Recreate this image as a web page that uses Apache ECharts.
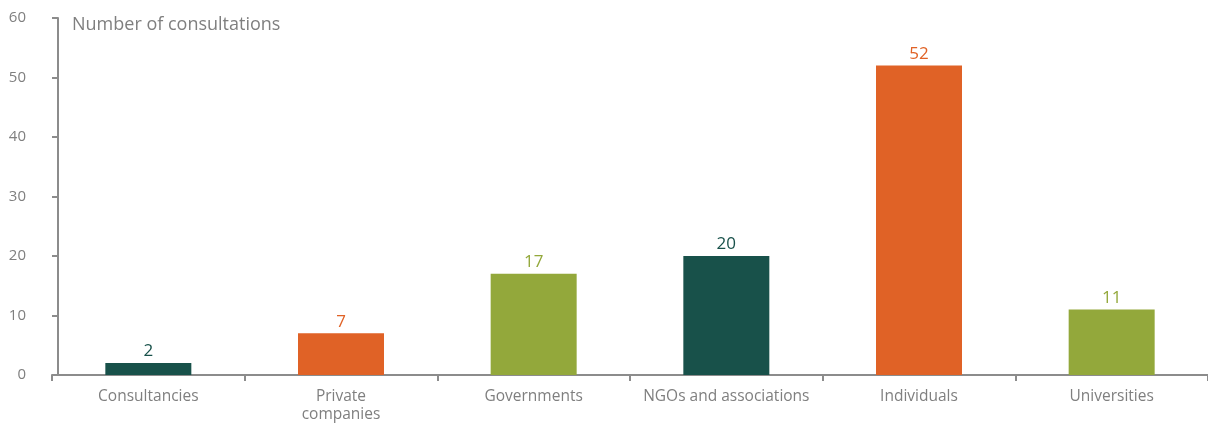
<!DOCTYPE html>
<html>
<head>
<meta charset="utf-8">
<style>
  html, body { margin: 0; padding: 0; background: #fff; }
  #main { width: 1208px; height: 427px; }
</style>
<script src="https://cdn.jsdelivr.net/npm/echarts@6/dist/echarts.min.js"></script>
</head>
<body>
<div id="main"></div>
<script>
const categories = ["Consultancies", "Private\ncompanies", "Governments", "NGOs and associations", "Individuals", "Universities"];
const consultations = [2, 7, 17, 20, 52, 11];
const barColors = ["#18514a", "#e06226", "#93a83b", "#18514a", "#e06226", "#93a83b"];
const yTicks = { min: 0, max: 60, interval: 10 };

const axisGrey = "#8c8c8c";
const textGrey = "#7f7f7f";
const font = "Open Sans";

const myChart = echarts.init(document.getElementById("main"));
myChart.setOption({
  animation: false,
  textStyle: { fontFamily: font },
  title: {
    text: "Number of consultations",
    left: 67,
    top: 11,
    textStyle: { color: textGrey, fontSize: 18, fontWeight: "normal", fontFamily: font }
  },
  grid: { left: 52, right: 0, top: 18, bottom: 52, containLabel: false },
  xAxis: {
    type: "category",
    data: categories,
    axisLine: { show: true, lineStyle: { color: axisGrey, width: 2 } },
    axisTick: { show: true, length: 6, lineStyle: { color: axisGrey, width: 2 } },
    axisLabel: { color: textGrey, fontSize: 15.5, margin: 13, lineHeight: 18, interval: 0 }
  },
  yAxis: {
    type: "value",
    min: yTicks.min,
    max: yTicks.max,
    interval: yTicks.interval,
    offset: -6,
    axisLine: { show: true, lineStyle: { color: axisGrey, width: 2 } },
    axisTick: { show: true, length: 6, lineStyle: { color: axisGrey, width: 2 } },
    axisLabel: { color: textGrey, fontSize: 15, margin: 32 },
    splitLine: { show: false }
  },
  series: [
    {
      type: "bar",
      barWidth: 86,
      data: consultations.map((v, i) => ({
        value: v,
        itemStyle: { color: barColors[i] },
        label: { color: barColors[i] }
      })),
      label: {
        show: true,
        position: "top",
        distance: 3,
        fontSize: 17,
        fontFamily: font
      }
    }
  ]
});
</script>
</body>
</html>
